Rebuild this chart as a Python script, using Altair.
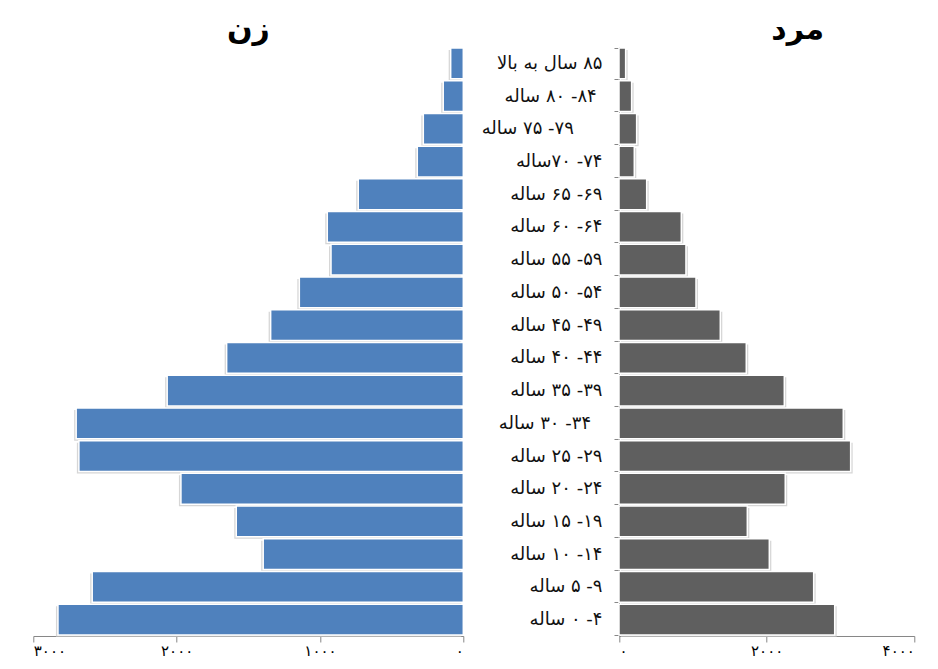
import altair as alt
import pandas as pd

# Age groups, top to bottom (Persian labels as shown)
ages = [
    "۸۵ سال به بالا",
    "\u00a0۸۴- ۸۰ ساله",
    "\u00a0\u00a0\u00a0\u00a0\u00a0۷۹- ۷۵ ساله",
    "۷۴- ۷۰ساله",
    "۶۹- ۶۵ ساله",
    "۶۴- ۶۰ ساله",
    "۵۹- ۵۵ ساله",
    "۵۴- ۵۰ ساله",
    "۴۹- ۴۵ ساله",
    "۴۴- ۴۰ ساله",
    "۳۹- ۳۵ ساله",
    "\u00a0\u00a0۳۴- ۳۰ ساله",
    "۲۹- ۲۵ ساله",
    "۲۴- ۲۰ ساله",
    "۱۹- ۱۵ ساله",
    "۱۴- ۱۰ ساله",
    "۹- ۵ ساله",
    "۴- ۰ ساله",
]
women = [88, 140, 279, 321, 733, 949, 923, 1144, 1344, 1651, 2066, 2701, 2682, 1970, 1584, 1396, 2589, 2828]
men = [90, 171, 239, 207, 375, 844, 907, 1043, 1372, 1724, 2239, 3038, 3138, 2252, 1738, 2036, 2637, 2922]

titles = ["زن", "مرد"]

left_ticks = [0, 1000, 2000, 3000]
left_tick_labels = ["۰", "۱۰۰۰", "۲۰۰۰", "۳۰۰۰"]
right_ticks = [0, 2000, 4000]
right_tick_labels = ["۰", "۲۰۰۰", "۴۰۰۰"]

df = pd.DataFrame({"age": ages, "women": women, "men": men})
tdf = pd.DataFrame({"title": titles})

FONT = "DejaVu Sans"
AXIS_GRAY = "#868686"


def label_expr(ticks, labels):
    parts = [f"datum.value == {t} ? '{l}'" for t, l in zip(ticks, labels)]
    return " : ".join(parts) + " : ''"


PLOT_W = 881
PLOT_H = 589
LEFT_W = 430
RIGHT_X0 = 585.7

y_enc = alt.Y(
    "age:N",
    sort=ages,
    scale=alt.Scale(paddingInner=0.06, paddingOuter=0.03),
    axis=alt.Axis(
        orient="left",
        offset=-RIGHT_X0,
        title=None,
        labelExpr="'\u202b' + datum.label + '\u202c'",
        labelFont=FONT,
        labelFontSize=18,
        labelFontWeight="normal",
        labelColor="#111111",
        labelPadding=12,
        tickBand="extent",
        tickSize=5,
        tickColor=AXIS_GRAY,
        domainColor=AXIS_GRAY,
        grid=False,
    ),
)

left_scale = alt.Scale(domain=[0, 3000], range=[LEFT_W, 0], nice=False, zero=True)
right_scale = alt.Scale(domain=[0, 4000], range=[RIGHT_X0, PLOT_W], nice=False, zero=True)


def x_axis(ticks, labels):
    return alt.Axis(
        orient="bottom",
        values=ticks,
        labelExpr=label_expr(ticks, labels),
        title=None,
        grid=False,
        labelFont=FONT,
        labelFontSize=15,
        labelColor="black",
        labelPadding=2,
        tickSize=6,
        tickColor=AXIS_GRAY,
        domainColor=AXIS_GRAY,
    )


left_x = alt.X("women:Q", scale=left_scale, axis=x_axis(left_ticks, left_tick_labels))
right_x = alt.X("men:Q", scale=right_scale, axis=x_axis(right_ticks, right_tick_labels))

base = alt.Chart(df)

left_shadow = base.mark_bar(
    color="#c4c4c4", opacity=0.7, xOffset=-2, x2Offset=-2, yOffset=2, y2Offset=2
).encode(x=left_x, y=y_enc)
left_bars = base.mark_bar(color="#4f81bd", stroke="white", strokeWidth=1.5).encode(
    x=left_x, y=y_enc
)
left_title = alt.Chart(tdf).transform_filter(alt.datum.title == titles[0]).mark_text(
    font=FONT, fontSize=30, fontWeight="bold", color="black", baseline="alphabetic", align="center"
).encode(x=alt.datum(1500, scale=left_scale), y=alt.value(-8), text="title:N")

right_shadow = base.mark_bar(
    color="#c4c4c4", opacity=0.7, xOffset=2, x2Offset=2, yOffset=2, y2Offset=2
).encode(x=right_x, y=y_enc)
right_bars = base.mark_bar(color="#5f5f5f", stroke="white", strokeWidth=1.5).encode(
    x=right_x, y=y_enc
)
right_title = alt.Chart(tdf).transform_filter(alt.datum.title == titles[1]).mark_text(
    font=FONT, fontSize=30, fontWeight="bold", color="black", baseline="alphabetic", align="center"
).encode(x=alt.datum(2420, scale=right_scale), y=alt.value(-8), text="title:N")

left = alt.layer(left_shadow, left_bars, left_title)
right = alt.layer(right_shadow, right_bars, right_title)

chart = (
    alt.layer(left, right)
    .resolve_scale(x="independent")
    .resolve_axis(x="independent")
    .properties(
        width=PLOT_W,
        height=PLOT_H,
        autosize=alt.AutoSizeParams(type="none"),
        padding={"left": 25.3, "top": 39, "right": 10, "bottom": 25},
        background="white",
    )
    .configure_view(stroke=None)
)

chart.save("out.html", embed_options={"renderer": "svg", "actions": False})
